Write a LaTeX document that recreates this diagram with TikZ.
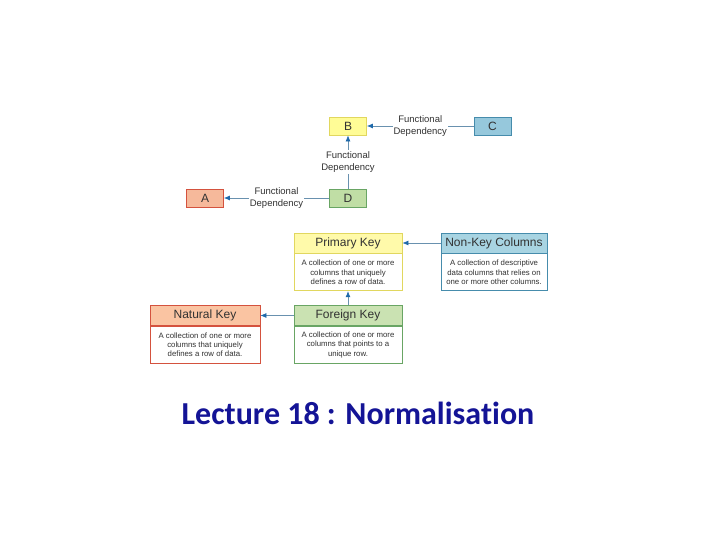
\documentclass[tikz,border=0pt]{standalone}
\usepackage{fontspec}
\setmainfont{Liberation Sans}
\newfontfamily\titlefont[Ligatures=NoCommon]{Carlito}
\usetikzlibrary{positioning,arrows.meta}

\definecolor{textgray}{RGB}{50,50,50}
\definecolor{lineblue}{RGB}{105,145,175}
\definecolor{tipblue}{RGB}{30,105,170}
\definecolor{titleblue}{RGB}{20,20,150}
\definecolor{ylwfill}{RGB}{255,252,150}
\definecolor{ylwhead}{RGB}{255,250,170}
\definecolor{ylwdraw}{RGB}{225,215,95}
\definecolor{bluefill}{RGB}{150,200,220}
\definecolor{bluehead}{RGB}{168,212,226}
\definecolor{bluedraw}{RGB}{70,140,172}
\definecolor{redfill}{RGB}{246,185,155}
\definecolor{redhead}{RGB}{250,196,162}
\definecolor{reddraw}{RGB}{212,82,62}
\definecolor{grnfill}{RGB}{192,222,165}
\definecolor{grnhead}{RGB}{202,226,178}
\definecolor{grndraw}{RGB}{105,165,100}

\tikzset{
    dep/.style={
        draw=lineblue, line width=0.7pt,
        -{Latex[length=6pt,width=5pt,color=tipblue]}
    },
    deplabel/.style={
        fill=white,
        inner sep=1pt,
        align=center,
        text=textgray,
        font=\fontsize{9.5}{12.5}\selectfont
    },
    letterbox/.style 2 args={
        rectangle,
        fill=#1, draw=#2, line width=0.8pt,
        minimum width=37pt,
        minimum height=18pt,
        inner sep=0pt,
        text=textgray,
        font=\fontsize{12}{13}\selectfont
    },
    keyhead/.style 2 args={
        rectangle,
        fill=#1, draw=#2, line width=0.8pt,
        minimum width=108pt,
        minimum height=20pt,
        inner sep=0pt,
        text=textgray,
        font=\fontsize{12}{13}\selectfont
    },
    keybody/.style={
        rectangle,
        fill=white, draw=#1, line width=0.8pt,
        minimum width=108pt,
        minimum height=37pt,
        inner sep=0pt,
        align=center,
        text=textgray,
        font=\fontsize{7.8}{9.2}\selectfont
    }
}

\begin{document}
\begin{tikzpicture}[x=1pt,y=-1pt]
    \useasboundingbox (0,0) rectangle (720,540);

    % functional dependencies
    \node[letterbox={ylwfill}{ylwdraw}] (B) at (348,126) {B};
    \node[letterbox={bluefill}{bluedraw}] (C) at (492.5,126) {C};
    \node[letterbox={redfill}{reddraw}] (A) at (205,198) {A};
    \node[letterbox={grnfill}{grndraw}] (D) at (348,198) {D};

    \draw[dep] (C) -- (B) node[deplabel, midway] (C to B) {Functional\\Dependency};
    \draw[dep] (D) -- (B) node[deplabel, midway] (D to B) {Functional\\Dependency};
    \draw[dep] (D) -- (A) node[deplabel, midway] (D to A) {Functional\\Dependency};

    % kinds of keys
    \node[keyhead={ylwhead}{ylwdraw}] (primary) at (348,243) {Primary Key};
    \node[keybody=ylwdraw, below=0pt of primary] (primary body)
        {A collection of one or more\\columns that uniquely\\defines a row of data.};

    \node[keyhead={bluehead}{bluedraw}, minimum width=106pt] (nonkey) at (494,243) {Non-Key Columns};
    \node[keybody=bluedraw, minimum width=106pt, below=0pt of nonkey] (nonkey body)
        {A collection of descriptive\\data columns that relies on\\one or more other columns.};

    \node[keyhead={redhead}{reddraw}, minimum width=110pt] (natural) at (205,315.5) {Natural Key};
    \node[keybody=reddraw, minimum width=110pt, below=0pt of natural] (natural body)
        {A collection of one or more\\columns that uniquely\\defines a row of data.};

    \node[keyhead={grnhead}{grndraw}] (foreign) at (348,315.5) {Foreign Key};
    \node[keybody=grndraw, below=0pt of foreign] (foreign body)
        {A collection of one or more\\columns that points to a\\unique row.};

    \draw[dep] (nonkey) -- (primary);
    \draw[dep] (foreign) -- (primary body);
    \draw[dep] (foreign) -- (natural);

    \node[text=titleblue, font=\titlefont\bfseries\fontsize{32}{38}\selectfont] (title) at (358,413)
        {Lecture 18 : Normalisation};
\end{tikzpicture}
\end{document}
